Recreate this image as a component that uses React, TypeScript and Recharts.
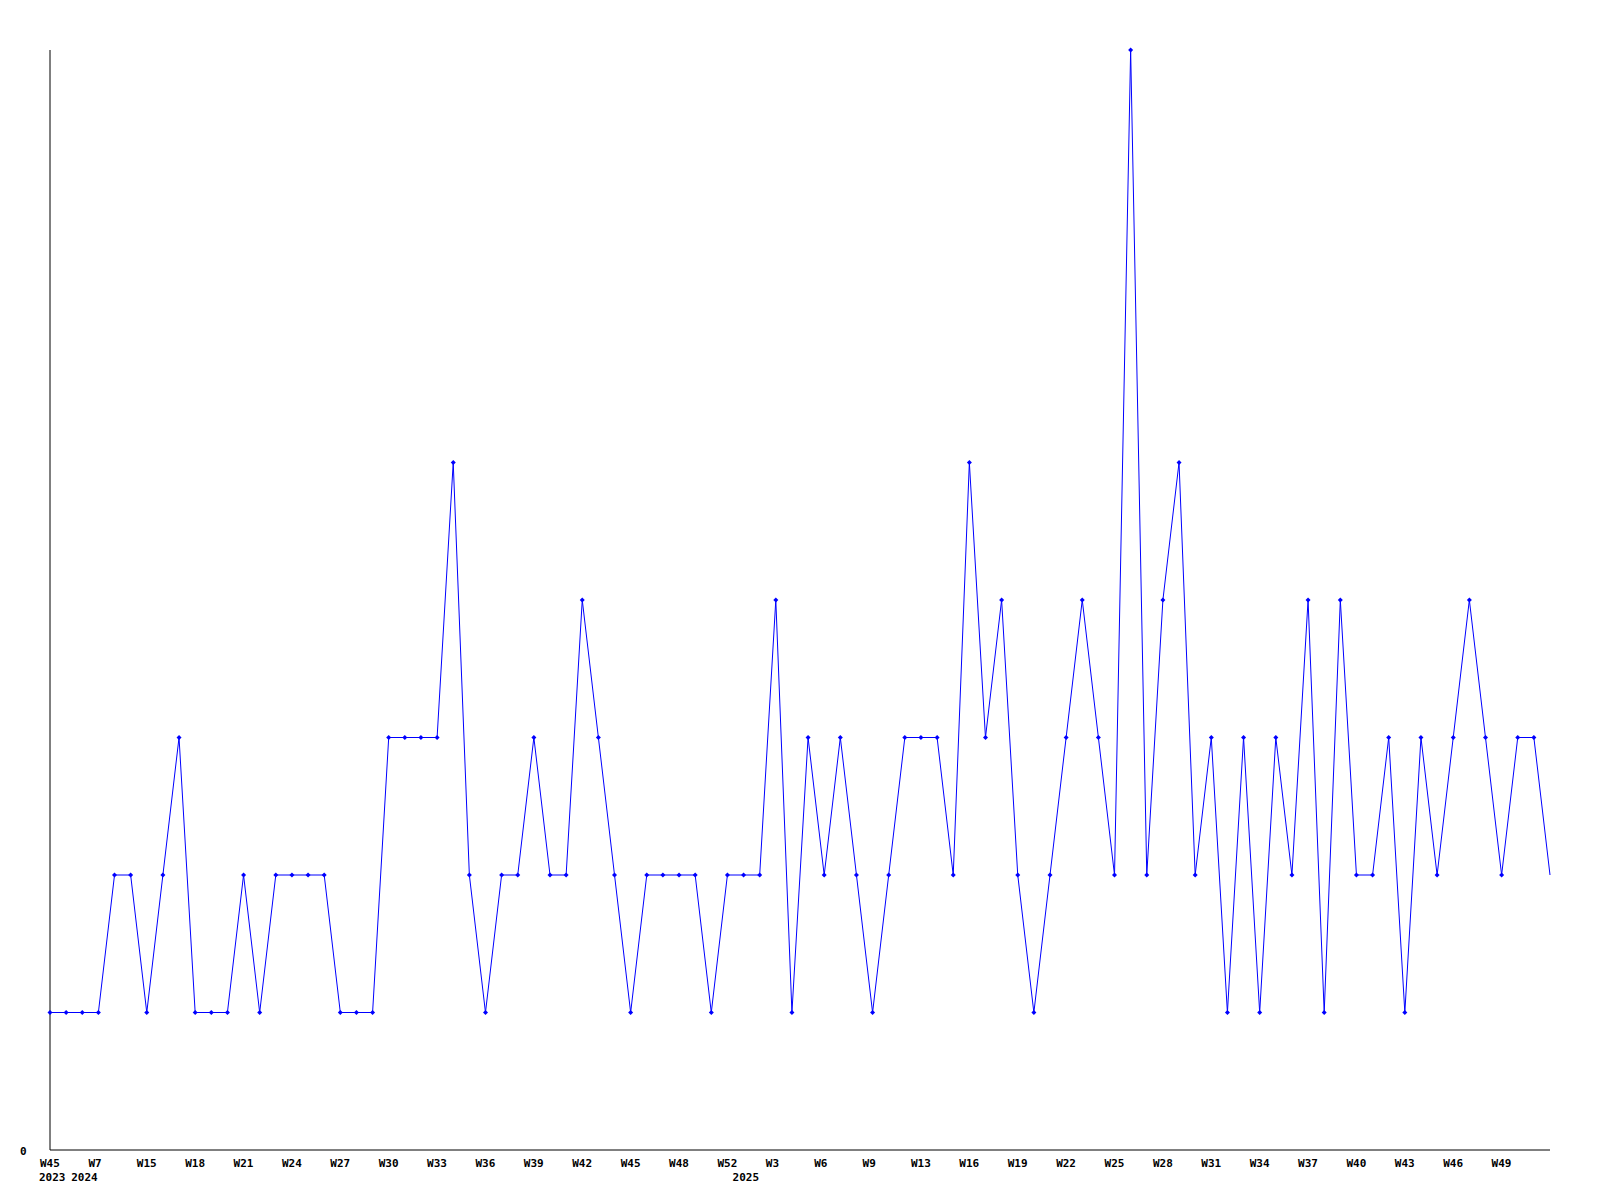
import React from 'react';
import { LineChart, Line, XAxis, YAxis } from 'recharts';

// one point per week; the early weeks have gaps
const weeks = [
  'W45', 'W48', 'W2', 'W7', 'W10', 'W13',
  'W15', 'W16', 'W17', 'W18', 'W19', 'W20', 'W21', 'W22', 'W23', 'W24', 'W25', 'W26',
  'W27', 'W28', 'W29', 'W30', 'W31', 'W32', 'W33', 'W34', 'W35', 'W36', 'W37', 'W38',
  'W39', 'W40', 'W41', 'W42', 'W43', 'W44', 'W45', 'W46', 'W47', 'W48',
  'W49', 'W51', 'W52',
  'W1', 'W2', 'W3', 'W4', 'W5', 'W6', 'W7', 'W8', 'W9',
  'W11', 'W12',
  'W13', 'W14', 'W15', 'W16', 'W17', 'W18', 'W19', 'W20', 'W21', 'W22', 'W23', 'W24',
  'W25', 'W26', 'W27', 'W28', 'W29', 'W30', 'W31', 'W32', 'W33', 'W34', 'W35', 'W36',
  'W37', 'W38', 'W39', 'W40', 'W41', 'W42', 'W43', 'W44', 'W45', 'W46', 'W47', 'W48',
  'W49', 'W50', 'W51', 'W52',
];

const counts = [
  1, 1, 1, 1, 2, 2, 1, 2, 3, 1,
  1, 1, 2, 1, 2, 2, 2, 2, 1, 1,
  1, 3, 3, 3, 3, 5, 2, 1, 2, 2,
  3, 2, 2, 4, 3, 2, 1, 2, 2, 2,
  2, 1, 2, 2, 2, 4, 1, 3, 2, 3,
  2, 1, 2, 3, 3, 3, 2, 5, 3, 4,
  2, 1, 2, 3, 4, 3, 2, 8, 2, 4,
  5, 2, 3, 1, 3, 1, 3, 2, 4, 1,
  4, 2, 2, 3, 1, 3, 2, 3, 4, 3,
  2, 3, 3, 2,
];

const yearLabels = ['2023', '2024', '2025'];
const yearStarts = [0, 2, 43];

const data = weeks.map((w, i) => ({ idx: i, week: w, count: counts[i] }));

const FONT = '"DejaVu Sans Mono", monospace';

const WeekTick = (props: any) => {
  const { x, y, payload } = props;
  const index = payload.value as number;
  const yi = yearStarts.indexOf(index);
  return (
    <g>
      {index % 3 === 0 && index < weeks.length - 1 && (
        <text x={x - 10} y={y + 17} fontFamily={FONT} fontWeight="bold" fontSize={11} fill="#000">
          {weeks[index]}
        </text>
      )}
      {yi >= 0 && (
        <text x={x - 11} y={y + 31} fontFamily={FONT} fontWeight="bold" fontSize={11} fill="#000">
          {yearLabels[yi]}
        </text>
      )}
    </g>
  );
};

const ZeroTick = (props: any) => {
  const { y, payload } = props;
  return (
    <text x={20} y={y + 5} fontFamily={FONT} fontWeight="bold" fontSize={11} fill="#000">
      {payload.value}
    </text>
  );
};

const renderMarker = (props: any) => {
  const { cx, cy, index } = props;
  if (index === counts.length - 1 || cx == null || cy == null) return <g key={`m${index}`} />;
  return (
    <path
      key={`m${index}`}
      d={`M${cx - 2.5},${cy} L${cx},${cy - 2.5} L${cx + 2.5},${cy} L${cx},${cy + 2.5} Z`}
      fill="#0000ff"
      stroke="none"
    />
  );
};

export default function App() {
  return (
    <div style={{ position: 'absolute', left: 0, top: 0, background: '#fff' }}>
      <LineChart width={1600} height={1200} data={data} margin={{ top: 50, right: 50, bottom: 0, left: 0 }}>
        <XAxis
          dataKey="idx"
          type="category"
          interval={0}
          height={50}
          tickLine={false}
          tickSize={0}
          tickMargin={0}
          axisLine={{ stroke: '#000', strokeWidth: 1 }}
          tick={WeekTick}
        />
        <YAxis
          width={50}
          domain={[0, 8]}
          ticks={[0]}
          tickLine={false}
          axisLine={{ stroke: '#000', strokeWidth: 1 }}
          tick={ZeroTick}
        />
        <Line
          type="linear"
          dataKey="count"
          stroke="#0000ff"
          strokeWidth={1}
          dot={renderMarker}
          activeDot={false}
          isAnimationActive={false}
        />
      </LineChart>
    </div>
  );
}
